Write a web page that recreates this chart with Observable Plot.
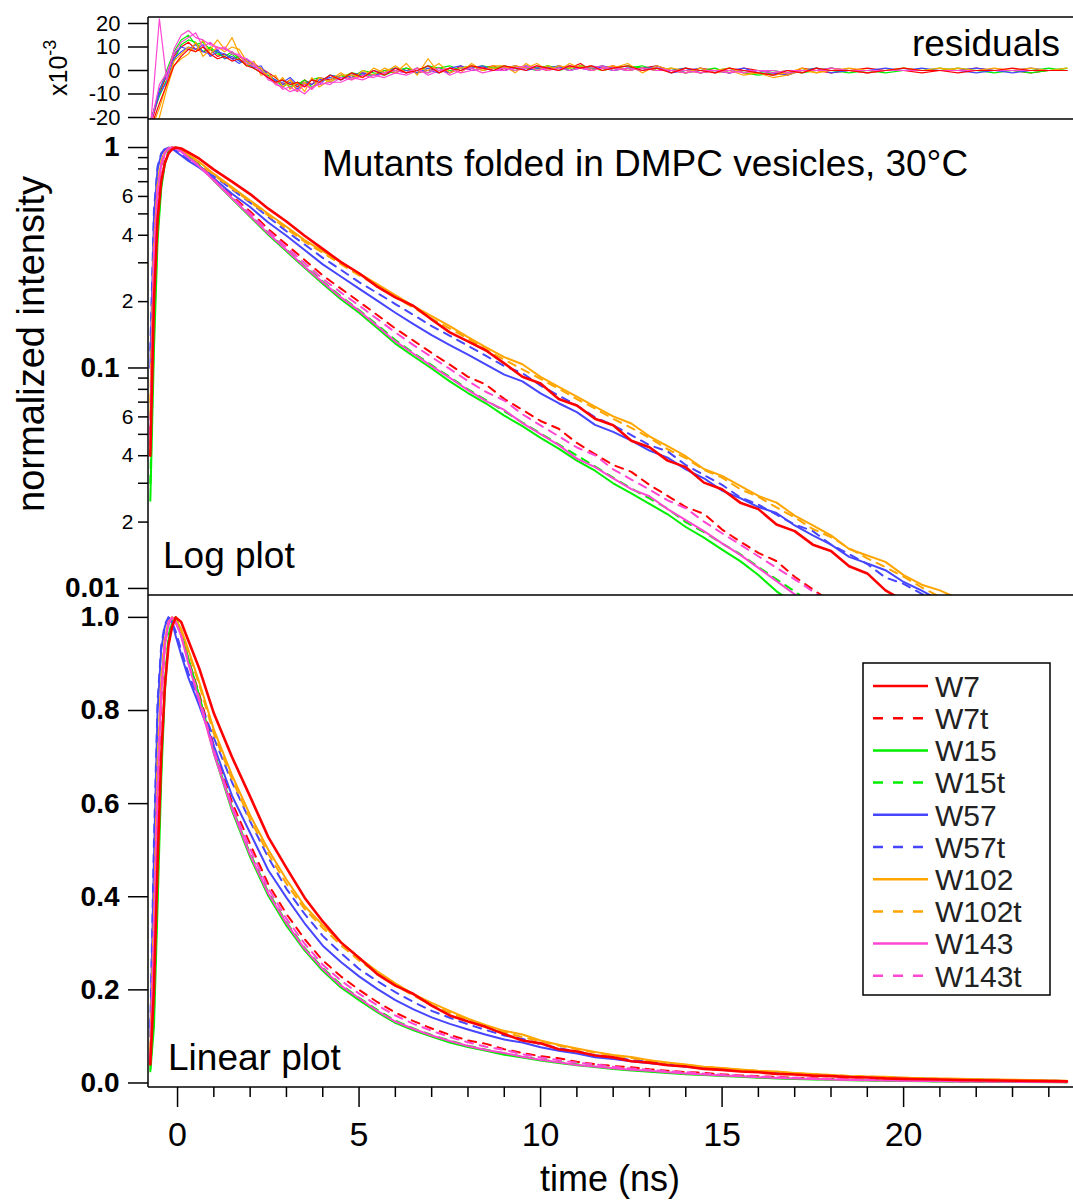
<!DOCTYPE html>
<html><head><meta charset="utf-8">
<script src="https://cdn.jsdelivr.net/npm/d3@7"></script>
<script src="https://cdn.jsdelivr.net/npm/@observablehq/plot@0.6"></script>
<style>
html,body{margin:0;padding:0;background:#fff;color:#000;}
#chart{position:relative;width:1073px;height:1200px;overflow:hidden;background:#fff;}
#chart svg{display:block;overflow:visible;}
</style></head><body><div id="chart"></div>
<script>
// ---------- series ----------
const seriesNames  = ["W7","W7t","W15","W15t","W57","W57t","W102","W102t","W143","W143t"];
const seriesColors = ["#ff0000","#ff0000","#00ee00","#00ee00","#4646ff","#4646ff","#ffa500","#ffa500","#ff46d2","#ff46d2"];
const seriesDashed = [false,true,false,true,false,true,false,true,false,true];

// ---------- decay data (normalized intensity) ----------
const decayTime = [-0.75,-0.65,-0.55,-0.45,-0.35,-0.25,-0.15,-0.05,0.1,0.3,0.6,
  1,1.5,2,2.5,3,3.5,4,4.5,5,5.5,6,6.5,7,7.5,8,8.5,9,9.5,10,10.5,11,11.5,12,12.5,13,13.5,14,14.5,15,15.5,16,16.5,17,17.5,18,18.5,19,19.5,20,20.5,21,21.5,22,24.5];

const W7 = [0.04,0.20,0.47,0.70,0.85,0.94,0.98,1.0,0.99,0.95,0.89,
  0.794,0.700,0.615,0.528,0.462,0.398,0.347,0.302,0.269,0.234,0.209,0.191,0.166,0.145,0.132,0.120,0.105,0.0912,0.0851,0.0724,0.0676,0.0589,0.0550,0.0468,0.0437,0.0380,0.0355,0.0302,0.0282,0.0245,0.0229,0.0195,0.0182,0.0158,0.0148,0.0126,0.0117,0.0098,0.0088,0.00800,0.00745,0.00650,0.00595,0.00350];
const W7t = [0.05,0.28,0.60,0.82,0.94,0.985,1.0,0.99,0.965,0.91,0.835,
  0.724,0.603,0.513,0.427,0.363,0.309,0.263,0.229,0.200,0.174,0.151,0.133,0.117,0.1035,0.0912,0.0840,0.0724,0.0646,0.0575,0.0530,0.0457,0.0407,0.0363,0.0338,0.0295,0.0263,0.0234,0.0218,0.0185,0.0163,0.0145,0.0133,0.0113,0.0099,0.0087,0.0077,0.0069,0.0061,0.0055,0.0049,0.0044,0.0040,0.0036,0.0022];
const W15 = [0.025,0.12,0.38,0.65,0.84,0.95,0.99,1.0,0.97,0.91,0.83,
  0.708,0.585,0.485,0.402,0.338,0.285,0.241,0.205,0.178,0.152,0.129,0.113,0.0995,0.0870,0.0770,0.0690,0.0608,0.0545,0.0482,0.0431,0.0380,0.0342,0.0300,0.0270,0.0242,0.0217,0.0190,0.0170,0.0150,0.0133,0.0115,0.0097,0.0085,0.0076,0.0067,0.0060,0.0053,0.0047,0.0042,0.0038,0.0034,0.0030,0.0027,0.0017];
const W15t = [0.03,0.15,0.42,0.68,0.86,0.96,0.995,1.0,0.97,0.91,0.83,
  0.712,0.592,0.493,0.410,0.345,0.290,0.247,0.211,0.183,0.157,0.134,0.117,0.103,0.0910,0.0800,0.0715,0.0636,0.0566,0.0505,0.0450,0.0401,0.0358,0.0318,0.0284,0.0256,0.0230,0.0200,0.0180,0.0160,0.0143,0.0125,0.0110,0.0097,0.0085,0.0075,0.0066,0.0058,0.0052,0.0046,0.0041,0.0036,0.0032,0.0029,0.0018];
const W57 = [0.10,0.48,0.80,0.93,0.98,1.0,0.99,0.96,0.92,0.87,0.81,
  0.724,0.617,0.537,0.457,0.398,0.343,0.295,0.260,0.229,0.202,0.178,0.158,0.141,0.127,0.115,0.1035,0.0933,0.0870,0.0767,0.0692,0.0631,0.0552,0.0513,0.0468,0.0422,0.0392,0.0347,0.0316,0.0278,0.0257,0.0234,0.0220,0.0193,0.0174,0.0158,0.0139,0.0130,0.0121,0.0107,0.00977,0.00881,0.00794,0.00724,0.00447];
const W57t = [0.12,0.52,0.82,0.94,0.985,1.0,0.99,0.97,0.93,0.88,0.82,
  0.741,0.646,0.562,0.484,0.417,0.363,0.316,0.279,0.245,0.219,0.195,0.174,0.155,0.140,0.126,0.1135,0.102,0.0948,0.0832,0.0750,0.0676,0.0598,0.0550,0.0496,0.0447,0.0418,0.0363,0.0327,0.0295,0.0259,0.0240,0.0216,0.0195,0.0182,0.0158,0.0143,0.0129,0.0112,0.0105,0.00944,0.00851,0.00767,0.00692,0.00417];
const W102 = [0.06,0.33,0.66,0.86,0.95,0.99,1.0,0.995,0.975,0.93,0.86,
  0.759,0.661,0.575,0.501,0.437,0.380,0.339,0.302,0.269,0.240,0.214,0.191,0.172,0.155,0.138,0.124,0.112,0.104,0.0912,0.0822,0.0741,0.0668,0.0603,0.0560,0.0490,0.0442,0.0398,0.0348,0.0324,0.0292,0.0263,0.0245,0.0214,0.0193,0.0174,0.0151,0.0141,0.0132,0.0115,0.0104,0.0098,0.0090,0.0082,0.0050];
const W102t = [0.07,0.36,0.69,0.87,0.955,0.99,1.0,0.99,0.97,0.925,0.855,
  0.750,0.652,0.566,0.492,0.428,0.374,0.333,0.296,0.263,0.236,0.209,0.188,0.167,0.151,0.136,0.121,0.109,0.0985,0.0892,0.0805,0.0722,0.0655,0.0588,0.0535,0.0482,0.0428,0.0390,0.0345,0.0318,0.0282,0.0260,0.0233,0.0210,0.0186,0.0171,0.0152,0.0137,0.0125,0.0113,0.0101,0.00915,0.00820,0.00745,0.00445];
const W143 = [0.045,0.30,0.62,0.83,0.94,0.985,1.0,0.99,0.96,0.90,0.82,
  0.708,0.589,0.490,0.407,0.343,0.288,0.245,0.209,0.182,0.155,0.132,0.116,0.102,0.0902,0.0794,0.0708,0.0645,0.0562,0.0501,0.0447,0.0388,0.0355,0.0316,0.0282,0.0262,0.0229,0.0204,0.0182,0.0160,0.0142,0.0124,0.0108,0.0094,0.0083,0.0073,0.0065,0.0058,0.0051,0.0046,0.0041,0.0037,0.0033,0.0030,0.0018];
const W143t = [0.05,0.32,0.64,0.84,0.945,0.99,1.0,0.99,0.96,0.905,0.825,
  0.715,0.595,0.503,0.418,0.353,0.299,0.254,0.220,0.192,0.167,0.145,0.127,0.112,0.0990,0.0873,0.0778,0.0712,0.0617,0.0549,0.0490,0.0436,0.0402,0.0347,0.0312,0.0281,0.0251,0.0231,0.0201,0.0178,0.0158,0.0140,0.0124,0.0110,0.0097,0.0086,0.0076,0.0068,0.0060,0.0054,0.0048,0.0043,0.0039,0.0035,0.0021];

// ---------- residuals (x10^-3) ----------
const residualTime = [-0.75,-0.5,-0.3,-0.1,0.1,0.3,0.5,0.7,0.9,1.1,
  1.3,1.5,1.7,1.9,2.1,2.3,2.5,2.7,2.9,3.1,
  3.3,3.5,3.7,3.9,4.2,4.5,4.8,5.1,5.4,5.7,
  6,6.3,6.6,6.9,7.2,7.5,7.8,8.1,8.4,8.7,
  9,9.3,9.6,9.9,10.2,10.5,10.8,11.1,11.4,11.7,
  12,12.4,12.8,13.2,13.6,14,14.4,14.8,15.2,15.6,
  16,16.4,16.8,17.2,17.6,18,18.5,19,19.5,20,
  20.5,21,21.5,22,22.5,23,23.5,24,24.5];
const resW7 = [-25,-14,-6,2,6,9,8,10,7,5, 6,4,5,2,1,-1,-3,-5,-4,-6, -5,-7,-4,-5,-2,-4,-1,-3,0,-2, 1,-1,0,2,-1,1,0,2,1,0, 2,1,0,2,1,0,2,1,2,0, 1,2,0,1,-1,1,0,-1,1,0, -1,-2,0,-1,1,0,0,-1,0,1, 0,0,-1,0,0,1,0,0,0];
const resW7t = [-24,-10,-2,6,10,12,9,8,9,6, 7,5,6,4,3,1,-1,-3,-6,-4, -7,-4,-6,-3,-4,-2,-3,-1,-2,0, -1,1,-1,0,1,-1,2,0,1,2, 0,2,1,1,0,2,1,3,0,1, 2,0,1,2,0,-1,1,0,-1,1, 0,-1,-2,1,0,-1,0,1,0,0, -1,0,0,1,0,0,-1,0,0];
const resW15 = [-22,-9,0,8,13,15,11,12,9,8, 5,7,4,3,1,-1,-2,-4,-7,-5, -6,-4,-7,-5,-2,-3,-1,-2,-2,0, 1,0,-1,2,1,0,1,2,0,1, 1,0,2,1,2,1,0,2,1,2, 0,1,2,0,1,-1,0,1,-1,0, -1,0,-1,0,1,0,-1,0,0,1, 0,1,0,0,-1,0,0,1,0];
const resW15t = [-21,-11,-4,4,11,13,12,8,10,7, 6,8,5,2,3,0,-3,-5,-4,-7, -5,-6,-4,-3,-5,-2,-3,0,-1,-2, 0,1,0,-1,1,2,0,1,2,1, 2,1,1,0,2,0,1,2,1,0, 1,2,1,0,0,1,-1,0,1,-1, -2,-1,0,-1,0,1,0,0,-1,0, 0,0,1,0,0,0,-1,0,1];
const resW57 = [-23,-8,-2,7,10,9,11,8,7,9, 5,6,4,4,1,2,-3,-4,-6,-5, -8,-5,-6,-4,-3,-4,-2,-1,-2,-1, 0,-1,1,0,-1,1,2,0,1,0, 1,2,0,1,1,2,0,1,2,1, 0,1,0,2,-1,0,1,-1,0,1, -1,-2,-1,0,0,1,0,-1,0,0, 1,0,0,-1,0,0,1,0,0];
const resW57t = [-22,-10,-5,5,8,10,9,11,6,8, 7,5,3,5,2,0,-1,-5,-5,-3, -6,-6,-4,-6,-2,-3,-3,-2,0,-1, 1,0,-1,1,0,-1,1,1,2,0, 0,1,2,0,1,1,2,1,0,2, 1,0,1,1,0,1,-1,0,-1,0, 0,-1,-2,0,1,-1,0,0,1,0, 0,0,0,1,0,-1,0,0,0];
const resW102 = [-28,-20,-8,2,5,7,12,6,9,13, 9,14,7,2,4,-2,-1,-6,-3,-8, -5,-9,-3,-7,-4,-1,-4,0,-2,1, -1,3,-2,5,-1,1,-1,3,0,2, 2,-1,3,0,2,0,3,1,2,0, 1,3,-1,2,0,-1,1,-1,0,-2, -1,-3,-2,0,-1,1,0,-1,0,1, 0,0,1,0,0,0,1,0,1];
const resW102t = [-26,-16,-6,4,7,10,8,13,7,10, 8,10,9,4,2,1,-3,-2,-7,-4, -9,-5,-8,-3,-5,-2,-2,-3,1,-1, 2,-1,1,0,3,-1,1,2,0,1, 1,2,1,3,0,2,1,2,0,1, 2,0,1,0,1,0,-1,0,1,-1, -1,-2,-1,1,-1,0,1,0,0,0, 0,1,0,0,1,0,0,0,0];
const resW143 = [-25,22,-4,9,15,17,14,13,11,10, 9,8,6,5,3,-1,-3,-6,-7,-9, -8,-10,-7,-6,-5,-5,-3,-4,-2,-3, -1,-2,0,-1,1,-2,0,1,-1,0, 1,0,1,2,0,1,0,1,1,2, 0,1,0,1,0,0,-1,0,0,-1, 0,-1,0,0,0,0,0,0,0,0, 0,0,0,0,0,0,0,0,0];
const resW143t = [-24,-6,-1,7,12,14,16,10,12,9, 10,7,7,3,2,0,-4,-5,-8,-7, -9,-6,-8,-5,-6,-3,-4,-2,-3,-1, 0,-1,1,-2,0,1,-1,0,1,0, 0,1,2,0,1,0,2,1,0,1, 1,0,1,0,0,-1,0,0,-1,0, 0,0,-1,0,0,1,0,0,0,0, 0,0,0,0,0,0,0,0,0];

// ---------- ticks & texts ----------
const residualTicks = [-20,-10,0,10,20];
const logMajorTicks = [0.01,0.1,1];
const logMinorTicks = [0.02,0.03,0.04,0.05,0.06,0.07,0.08,0.09,0.2,0.3,0.4,0.5,0.6,0.7,0.8,0.9];
const logMinorLabelTicks = [0.02,0.04,0.06,0.2,0.4,0.6];
const logMinorLabels = ["2","4","6","2","4","6"];
const linearTicks = [0,0.2,0.4,0.6,0.8,1.0];
const timeMajorTicks = [0,5,10,15,20];
const timeMinorTicks = [1,2,3,4,6,7,8,9,11,12,13,14,16,17,18,19,21,22,23,24];
const titleText = "Mutants folded in DMPC vesicles, 30°C";
const yTitle = "normalized intensity";
const xTitle = "time (ns)";

// ---------- build ----------
const decayValues = [W7,W7t,W15,W15t,W57,W57t,W102,W102t,W143,W143t];
const residualValues = [resW7,resW7t,resW15,resW15t,resW57,resW57t,resW102,resW102t,resW143,resW143t];
const drawOrder = [1,2,3,4,5,6,7,8,9,0];
const decayRows = i => decayTime.slice(0, decayValues[i].length).map((t, j) => ({t, v: decayValues[i][j]}));
const resRows = i => residualTime.slice(0, residualValues[i].length).map((t, j) => ({t, r: residualValues[i][j]}));

const W = 1073, ML = 148;
const font = "'Liberation Sans', Arial, Helvetica, sans-serif";
const narrow = "'Liberation Sans Narrow', 'Arial Narrow', 'Liberation Sans', Arial, sans-serif";
const baseStyle = {fontFamily: font, background: "transparent", overflow: "visible", color: "#000"};
const xDomain = [-0.8, 24.68];
const dash = "8,7";

function decayLines(clip) {
  return drawOrder.map(i => Plot.line(decayRows(i), {
    x: "t", y: "v", stroke: seriesColors[i],
    strokeWidth: i === 0 ? 2.6 : 2, strokeDasharray: seriesDashed[i] ? dash : null, clip
  }));
}

function line(svg, x1, y1, x2, y2, w = 1.5) {
  d3.select(svg).append("line").attr("x1", x1).attr("y1", y1).attr("x2", x2).attr("y2", y2)
    .attr("stroke", "#000").attr("stroke-width", w);
}
function text(svg, s, x, y, size, anchor = "start", family = font, extra = {}) {
  const t = d3.select(svg).append("text").attr("x", x).attr("y", y).attr("font-size", size)
    .attr("font-family", family).attr("text-anchor", anchor).attr("fill", "#000").text(s);
  for (const k in extra) t.attr(k, extra[k]);
  return t;
}

// Panel 1: residuals
const p1 = Plot.plot({
  width: W, height: 119, marginLeft: ML, marginRight: 0, marginTop: 17, marginBottom: 0,
  style: baseStyle,
  x: {domain: xDomain, axis: null},
  y: {domain: [-20.85, 22.55], label: null},
  marks: [
    ...drawOrder.map(i => Plot.line(resRows(i), {x: "t", y: "r", stroke: seriesColors[i], strokeWidth: 1.2, clip: true})),
    Plot.axisY({ticks: residualTicks, tickSize: 20, tickPadding: 8, fontSize: 22, tickFormat: d => String(d), label: null, strokeWidth: 1.5})
  ]
});
{
  const xr = p1.scale("x").range, yr = p1.scale("y").range;
  line(p1, xr[0], yr[1], xr[1], yr[1]);
  line(p1, xr[0], yr[0], xr[1], yr[0]);
  line(p1, xr[0], yr[1], xr[0], yr[0]);
  text(p1, "residuals", 1060, 56, 37, "end");
  const t = d3.select(p1).append("text").attr("transform", "translate(67,96) rotate(-90)")
    .attr("font-family", font).attr("font-size", 25).attr("fill", "#000").attr("text-anchor", "start");
  t.append("tspan").text("x10");
  t.append("tspan").attr("dy", -11).attr("font-size", 18).text("-3");
}

// Panel 2: log plot
const p2 = Plot.plot({
  width: W, height: 476, marginLeft: ML, marginRight: 0, marginTop: 0, marginBottom: 0,
  style: baseStyle,
  x: {domain: xDomain, axis: null},
  y: {type: "log", domain: [0.00929, 1.34], label: null},
  marks: [
    ...decayLines(true),
    Plot.axisY({ticks: logMajorTicks, tickSize: 20, tickPadding: 9, fontSize: 28, fontWeight: "bold", tickFormat: d => String(d), label: null, strokeWidth: 1.5}),
    Plot.axisY({ticks: logMinorTicks, tickSize: 10, tickFormat: () => "", label: null, strokeWidth: 1.5}),
    Plot.text(logMinorLabelTicks, {y: d => d, text: (d, i) => logMinorLabels[i], frameAnchor: "left", dx: -15, textAnchor: "end", fontSize: 21})
  ]
});
{
  const xr = p2.scale("x").range, yr = p2.scale("y").range;
  line(p2, xr[0], yr[0], xr[1], yr[0]);
  line(p2, xr[0], yr[1], xr[0], yr[0]);
  text(p2, titleText, 322, 57, 37);
  text(p2, "Log plot", 163, 449, 37);
  text(p2, yTitle, 0, 0, 38, "middle", font, {transform: "translate(44,225) rotate(-90)"});
}

// Panel 3: linear plot
const p3 = Plot.plot({
  width: W, height: 605, marginLeft: ML, marginRight: 0, marginTop: 0, marginBottom: 113,
  style: baseStyle,
  x: {domain: xDomain, label: null},
  y: {domain: [-0.0097, 1.047], label: null},
  marks: [
    ...decayLines(true),
    Plot.axisY({ticks: linearTicks, tickSize: 20, tickPadding: 9, fontSize: 28, fontWeight: "bold", tickFormat: d => d.toFixed(1), label: null, strokeWidth: 1.5}),
    Plot.axisX({ticks: timeMajorTicks, tickSize: 20, tickPadding: 14, fontSize: 34, fontFamily: narrow, tickFormat: d => String(d), label: null, strokeWidth: 1.5}),
    Plot.axisX({ticks: timeMinorTicks, tickSize: 10, tickFormat: () => "", label: null, strokeWidth: 1.5})
  ]
});
{
  const xr = p3.scale("x").range, yr = p3.scale("y").range;
  line(p3, xr[0], yr[0], xr[1], yr[0]);
  line(p3, xr[0], yr[1], xr[0], yr[0]);
  text(p3, "Linear plot", 168, yr[0] - 17, 37);
  text(p3, xTitle, 610, yr[0] + 104, 36, "middle", narrow);
  // legend
  const g = d3.select(p3).append("g").attr("text-anchor", "start");
  g.append("rect").attr("x", 863).attr("y", 68).attr("width", 187).attr("height", 332)
    .attr("fill", "#fff").attr("stroke", "#000").attr("stroke-width", 1.5);
  seriesNames.forEach((name, i) => {
    const cy = 91 + i * 32.2;
    g.append("line").attr("x1", 873).attr("x2", 928).attr("y1", cy).attr("y2", cy)
      .attr("stroke", seriesColors[i]).attr("stroke-width", 2.5)
      .attr("stroke-dasharray", seriesDashed[i] ? "10,10" : null);
    g.append("text").attr("x", 935).attr("y", cy).attr("dy", "0.36em").attr("font-size", 30)
      .attr("text-anchor", "start").attr("font-family", font).attr("fill", "#222").text(name);
  });
}

document.getElementById("chart").append(p1, p2, p3);
</script></body></html>
